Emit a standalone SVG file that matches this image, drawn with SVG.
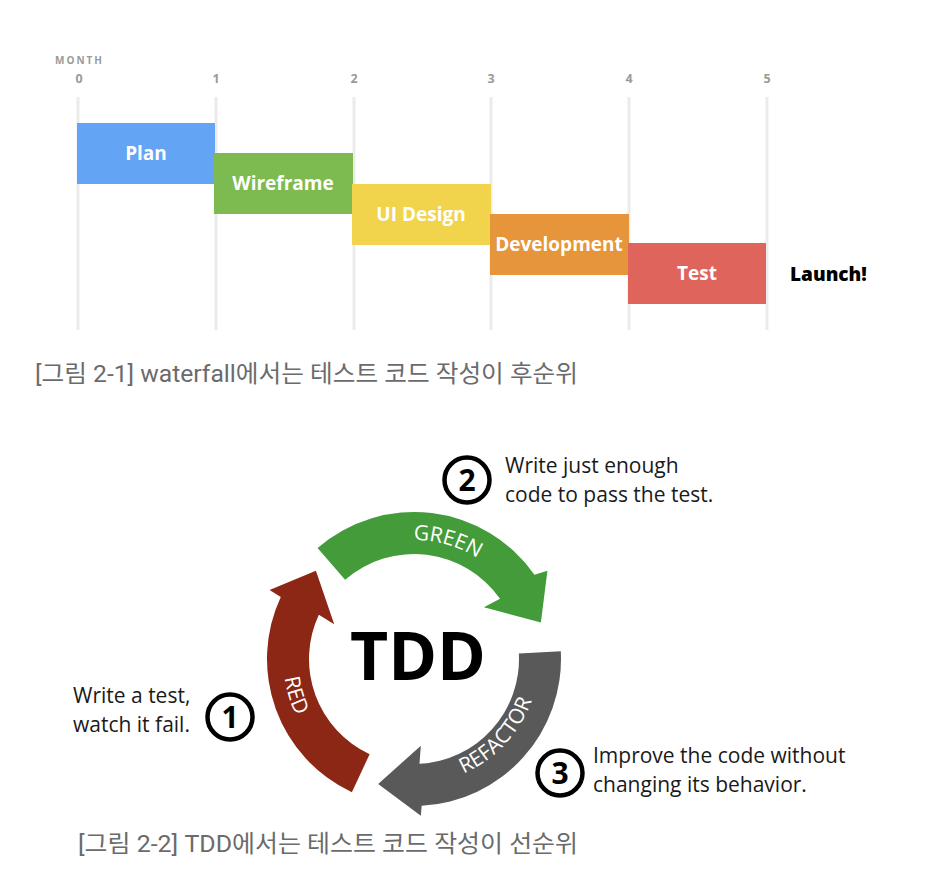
<svg xmlns="http://www.w3.org/2000/svg" width="942" height="890" viewBox="0 0 942 890">
<style>
.grid{stroke:#ebebeb;stroke-width:3}
.tick{font-family:"Open Sans","Noto Sans",sans-serif;font-weight:700;font-size:12.5px;fill:#9a9a9a;text-anchor:middle}
.bar-label{font-family:"Open Sans","Noto Sans",sans-serif;font-weight:700;font-size:19px;fill:#ffffff;text-anchor:middle}
.caption{font-family:"Roboto","Noto Sans CJK KR",sans-serif;font-size:24px;fill:#6b6b6b}
.arc-label{font-family:"Open Sans","Noto Sans",sans-serif;font-size:21px;fill:#ffffff;text-anchor:middle}
.desc{font-family:"Open Sans","Noto Sans",sans-serif;font-size:21px;fill:#1a1a1a}
.num-circle{fill:#ffffff;stroke:#000000;stroke-width:4.5}
.num{font-family:"Open Sans","Noto Sans",sans-serif;font-weight:700;font-size:30px;fill:#000000;text-anchor:middle}
</style>
<defs>
<path id="greenPath" d="M365.6,550.29 A119,119 0 0 1 512.65,592.46"/>
<path id="redPath" d="M293.41,607.82 A132,132 0 0 0 342.66,768.87"/>
<path id="refactorPath" d="M429.24,783.06 A126,126 0 0 0 538.83,665.54"/>
</defs>
<rect width="942" height="890" fill="#ffffff"/>

<g id="waterfall-axis">
<text x="55" y="64" font-family="Open Sans, Noto Sans, sans-serif" font-weight="700" font-size="10" fill="#9a9a9a" letter-spacing="2">MONTH</text>
<line class="grid" x1="78" y1="97" x2="78" y2="330"/>
<line class="grid" x1="216" y1="97" x2="216" y2="330"/>
<line class="grid" x1="354" y1="97" x2="354" y2="330"/>
<line class="grid" x1="491" y1="97" x2="491" y2="330"/>
<line class="grid" x1="629" y1="97" x2="629" y2="330"/>
<line class="grid" x1="767" y1="97" x2="767" y2="330"/>
<text class="tick" x="79" y="83">0</text>
<text class="tick" x="216" y="83">1</text>
<text class="tick" x="354" y="83">2</text>
<text class="tick" x="491" y="83">3</text>
<text class="tick" x="629" y="83">4</text>
<text class="tick" x="767" y="83">5</text>
</g>

<g id="bar-plan">
<rect x="77" y="123" width="138" height="61" fill="#63a4f5"/>
<text class="bar-label" x="146" y="160">Plan</text>
</g>
<g id="bar-wireframe">
<rect x="214" y="153" width="139" height="61" fill="#7dbb50"/>
<text class="bar-label" x="283" y="190">Wireframe</text>
</g>
<g id="bar-uidesign">
<rect x="352" y="184" width="139" height="61" fill="#f1d44b"/>
<text class="bar-label" x="421" y="221">UI Design</text>
</g>
<g id="bar-development">
<rect x="490" y="214" width="139" height="61" fill="#e6953a"/>
<text class="bar-label" x="559" y="251">Development</text>
</g>
<g id="bar-test">
<rect x="628" y="243" width="138" height="61" fill="#df645c"/>
<text class="bar-label" x="697" y="280">Test</text>
</g>
<g id="launch">
<text x="790" y="281" font-family="Open Sans, Noto Sans, sans-serif" font-weight="800" font-size="19" fill="#000000">Launch!</text>
</g>

<g id="caption-1">
<text class="caption" x="35" y="382" textLength="543" lengthAdjust="spacingAndGlyphs">[그림 2-1] waterfall에서는 테스트 코드 작성이 후순위</text>
</g>

<g id="connectors">
<path id="arrow-red" fill="#8c2615" d="M351.88,792.23 A147,147 0 0 1 280.77,596.88 L269.58,590.12 L315.91,570.68 L334.21,624.31 L318.84,614.63 A105,105 0 0 0 369.63,754.16 Z"/>
<path id="arrow-green" fill="#439b3a" d="M317.55,548.06 A147,147 0 0 1 534.42,574.68 L547.42,570.70 L540.89,622.62 L483.94,607.25 L500.02,598.77 A105,105 0 0 0 345.11,579.76 Z"/>
<path id="arrow-gray" fill="#595959" d="M560.8,651.31 A147,147 0 0 1 421.69,805.8 L420.85,815.84 L378.17,783.97 L420.83,745.73 L419.49,763.86 A105,105 0 0 0 518.86,653.51 Z"/>
</g>

<g id="label-green">
<text class="arc-label" font-size="19"><textPath href="#greenPath" startOffset="50%">GREEN</textPath></text>
</g>
<g id="label-red">
<text class="arc-label"><textPath href="#redPath" startOffset="50%">RED</textPath></text>
</g>
<g id="label-refactor">
<text class="arc-label"><textPath href="#refactorPath" startOffset="50%">REFACTOR</textPath></text>
</g>

<g id="tdd-center">
<text x="418" y="680" font-family="Open Sans, Noto Sans, sans-serif" font-weight="700" font-size="66" fill="#000000" text-anchor="middle">TDD</text>
</g>

<g id="step-1">
<circle class="num-circle" cx="230" cy="717" r="22.5"/>
<text class="num" x="230" y="728">1</text>
<text class="desc" x="73" y="703">Write a test,</text>
<text class="desc" x="73" y="732">watch it fail.</text>
</g>
<g id="step-2">
<circle class="num-circle" cx="467" cy="480" r="22.5"/>
<text class="num" x="467" y="491">2</text>
<text class="desc" x="505" y="473">Write just enough</text>
<text class="desc" x="505" y="502">code to pass the test.</text>
</g>
<g id="step-3">
<circle class="num-circle" cx="560" cy="773" r="22.5"/>
<text class="num" x="560" y="784">3</text>
<text class="desc" x="593" y="763">Improve the code without</text>
<text class="desc" x="593" y="792">changing its behavior.</text>
</g>

<g id="caption-2">
<text class="caption" x="78" y="852" textLength="500" lengthAdjust="spacingAndGlyphs">[그림 2-2] TDD에서는 테스트 코드 작성이 선순위</text>
</g>
</svg>
